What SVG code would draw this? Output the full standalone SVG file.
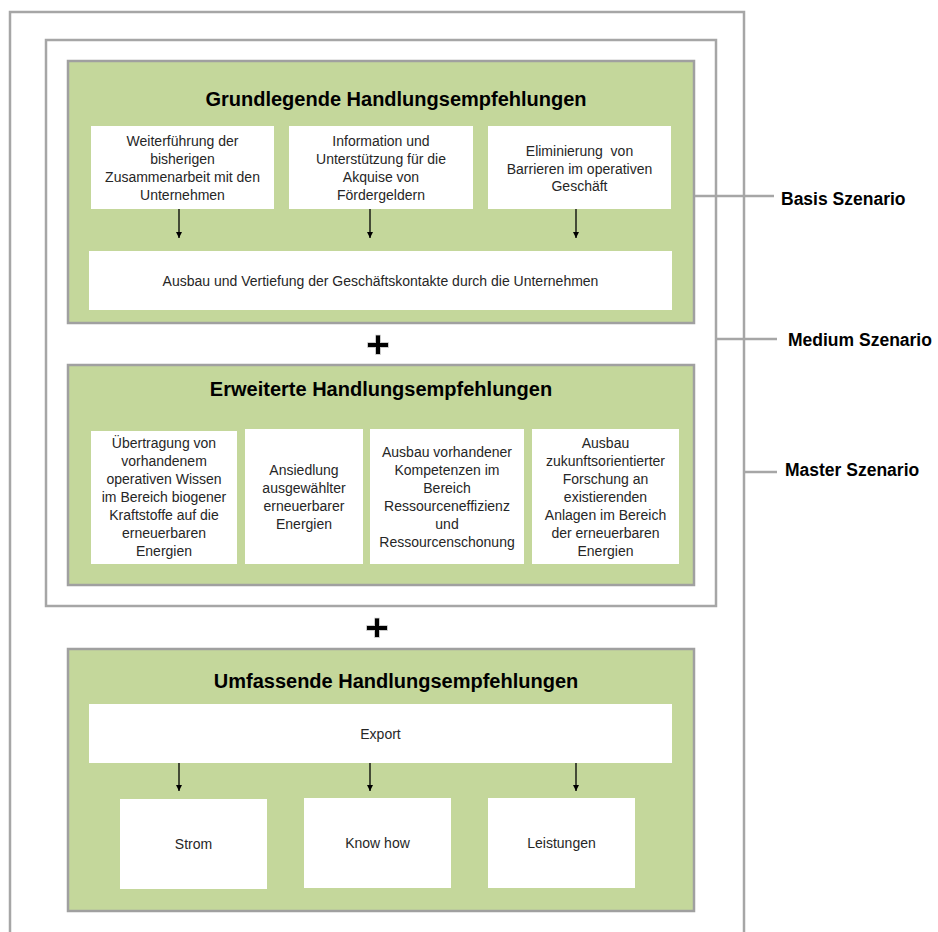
<svg xmlns="http://www.w3.org/2000/svg" width="938" height="932" viewBox="0 0 938 932">
<style>
.frame{fill:none;stroke:#A6A6A6;stroke-width:2.5}
.green{fill:#C4D79B;stroke:#A0A0A0;stroke-width:2.5}
.box{fill:#FFFFFF}
.t{font-family:"Liberation Sans",Arial,sans-serif;font-size:14px;fill:#262626;text-anchor:middle}
.h{font-family:"Liberation Sans",Arial,sans-serif;font-size:20px;font-weight:bold;fill:#000;text-anchor:middle}
.lab{font-family:"Liberation Sans",Arial,sans-serif;font-size:17.5px;font-weight:bold;fill:#000}
.arrow{stroke:#000;stroke-width:1.3;fill:none;marker-end:url(#ah)}
.sline{stroke:#A6A6A6;stroke-width:2.5;fill:none}
.plus{fill:#000;stroke:#DDD;stroke-width:0.8}
</style>
<defs>
<marker id="ah" viewBox="0 0 10 10" refX="10" refY="5" markerWidth="6" markerHeight="6" markerUnits="userSpaceOnUse" orient="auto">
<path d="M0,0 L10,5 L0,10 Z" fill="#000"/>
</marker>
</defs>
<rect width="938" height="932" fill="#FFFFFF"/>

<g id="master">
<path class="frame" d="M10,940 V12 H744 V940"/>
</g>
<g id="medium">
<rect class="frame" x="46" y="40" width="670" height="566"/>
</g>

<g id="grundlegende">
<rect class="green" x="68" y="61" width="626" height="262"/>
<text class="h" x="396" y="106">Grundlegende Handlungsempfehlungen</text>
</g>
<g id="g1">
<rect class="box" x="91" y="126" width="183" height="83"/>
<text class="t" x="182.5" y="146">Weiterführung der</text>
<text class="t" x="182.5" y="164">bisherigen</text>
<text class="t" x="182.5" y="182">Zusammenarbeit mit den</text>
<text class="t" x="182.5" y="200">Unternehmen</text>
</g>
<g id="g2">
<rect class="box" x="289" y="126" width="184" height="83"/>
<text class="t" x="381" y="146">Information und</text>
<text class="t" x="381" y="164">Unterstützung für die</text>
<text class="t" x="381" y="182">Akquise von</text>
<text class="t" x="381" y="200">Fördergeldern</text>
</g>
<g id="g3">
<rect class="box" x="488" y="126" width="183" height="83"/>
<text class="t" x="579.5" y="156">Eliminierung&#160; von</text>
<text class="t" x="579.5" y="174">Barrieren im operativen</text>
<text class="t" x="579.5" y="191">Geschäft</text>
</g>
<g id="g4">
<rect class="box" x="89" y="251" width="583" height="59"/>
<text class="t" x="380.5" y="286">Ausbau und Vertiefung der Geschäftskontakte durch die Unternehmen</text>
</g>

<g id="plus1">
<rect class="plus" x="367.5" y="342.5" width="21" height="5"/>
<rect class="plus" x="375.5" y="335" width="5" height="19.5"/>
<rect x="368" y="343" width="20" height="4" fill="#000"/>
</g>

<g id="erweiterte">
<rect class="green" x="68" y="365" width="626" height="220"/>
<text class="h" x="381" y="396">Erweiterte Handlungsempfehlungen</text>
</g>
<g id="e1">
<rect class="box" x="91" y="431" width="146" height="133"/>
<text class="t" x="164" y="448">Übertragung von</text>
<text class="t" x="164" y="466">vorhandenem</text>
<text class="t" x="164" y="484">operativen Wissen</text>
<text class="t" x="164" y="502">im Bereich biogener</text>
<text class="t" x="164" y="520">Kraftstoffe auf die</text>
<text class="t" x="164" y="538">erneuerbaren</text>
<text class="t" x="164" y="556">Energien</text>
</g>
<g id="e2">
<rect class="box" x="245" y="429" width="118" height="135"/>
<text class="t" x="304" y="475">Ansiedlung</text>
<text class="t" x="304" y="493">ausgewählter</text>
<text class="t" x="304" y="511">erneuerbarer</text>
<text class="t" x="304" y="529">Energien</text>
</g>
<g id="e3">
<rect class="box" x="370" y="429" width="154" height="135"/>
<text class="t" x="447" y="457">Ausbau vorhandener</text>
<text class="t" x="447" y="475">Kompetenzen im</text>
<text class="t" x="447" y="493">Bereich</text>
<text class="t" x="447" y="511">Ressourceneffizienz</text>
<text class="t" x="447" y="529">und</text>
<text class="t" x="447" y="547">Ressourcenschonung</text>
</g>
<g id="e4">
<rect class="box" x="532" y="429" width="147" height="135"/>
<text class="t" x="605.5" y="448">Ausbau</text>
<text class="t" x="605.5" y="466">zukunftsorientierter</text>
<text class="t" x="605.5" y="484">Forschung an</text>
<text class="t" x="605.5" y="502">existierenden</text>
<text class="t" x="605.5" y="520">Anlagen im Bereich</text>
<text class="t" x="605.5" y="538">der erneuerbaren</text>
<text class="t" x="605.5" y="556">Energien</text>
</g>

<g id="plus2">
<rect class="plus" x="366.5" y="625.5" width="21" height="5"/>
<rect class="plus" x="374.5" y="618" width="5" height="19.5"/>
<rect x="367" y="626" width="20" height="4" fill="#000"/>
</g>

<g id="umfassende">
<rect class="green" x="68" y="649" width="626" height="262"/>
<text class="h" x="396" y="688">Umfassende Handlungsempfehlungen</text>
</g>
<g id="u1">
<rect class="box" x="89" y="704" width="583" height="59"/>
<text class="t" x="380.5" y="739">Export</text>
</g>
<g id="u2">
<rect class="box" x="120" y="799" width="147" height="90"/>
<text class="t" x="193.5" y="849">Strom</text>
</g>
<g id="u3">
<rect class="box" x="304" y="798" width="147" height="90"/>
<text class="t" x="377.5" y="848">Know how</text>
</g>
<g id="u4">
<rect class="box" x="488" y="798" width="147" height="90"/>
<text class="t" x="561.5" y="848">Leistungen</text>
</g>

<g id="labels">
<text class="lab" x="781" y="205">Basis Szenario</text>
<text class="lab" x="788" y="346">Medium Szenario</text>
<text class="lab" x="785" y="476">Master Szenario</text>
</g>

<g id="connectors">
<line class="arrow" x1="179" y1="209" x2="179" y2="238"/>
<line class="arrow" x1="370" y1="209" x2="370" y2="238"/>
<line class="arrow" x1="576" y1="209" x2="576" y2="238"/>
<line class="arrow" x1="179" y1="763" x2="179" y2="791"/>
<line class="arrow" x1="370" y1="763" x2="370" y2="791"/>
<line class="arrow" x1="576" y1="763" x2="576" y2="791"/>
<line class="sline" x1="695" y1="196" x2="774" y2="196"/>
<line class="sline" x1="717" y1="339" x2="777" y2="339"/>
<line class="sline" x1="745" y1="472" x2="777" y2="472"/>
</g>
</svg>
